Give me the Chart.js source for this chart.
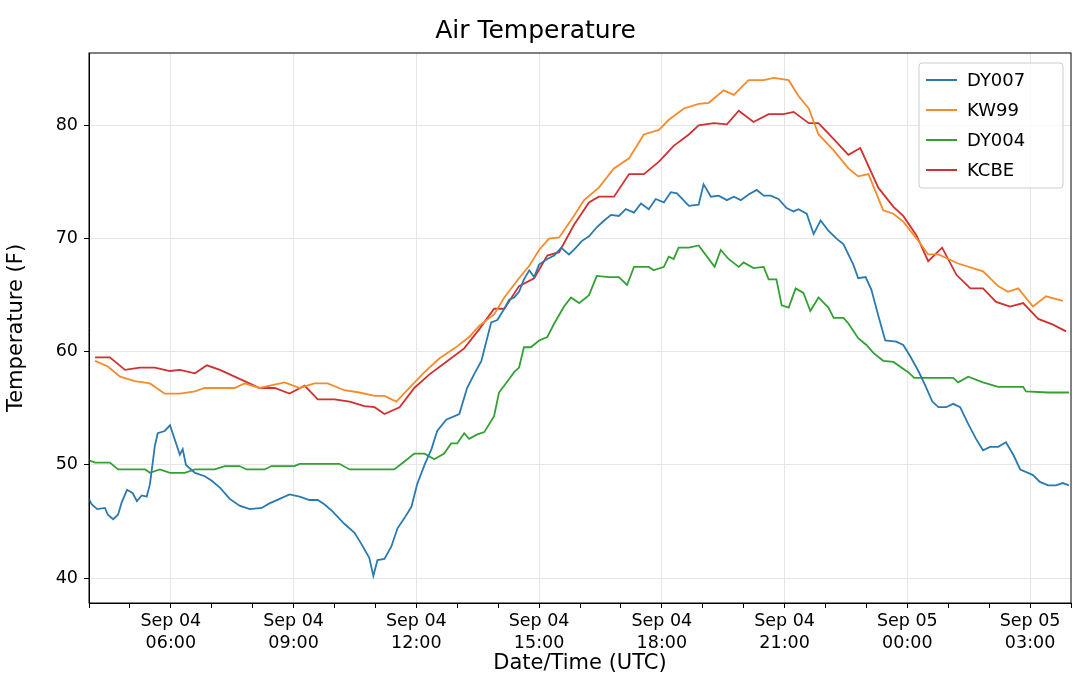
<!DOCTYPE html>
<html>
<head>
<meta charset="utf-8">
<script src="https://cdn.jsdelivr.net/npm/chart.js@4"></script>
<style>
  html, body { margin: 0; padding: 0; background: #fff; }
  #wrap { width: 1080px; height: 688px; }
</style>
</head>
<body>
<div id="wrap"><canvas id="myChart" width="1080" height="688"></canvas></div>
<script>
// x = hours after Sep 04 04:00 UTC
const dy007X = [0,.07,.20,.39,.46,.59,.71,.80,.93,1.07,1.17,1.29,1.41,1.49,1.61,1.68,1.85,1.98,2.10,2.22,2.29,2.37,2.59,2.83,3.00,3.20,3.44,3.68,3.93,4.22,4.41,4.66,4.90,5.15,5.39,5.59,5.76,5.95,6.24,6.49,6.66,6.85,6.95,7.05,7.22,7.39,7.54,7.71,7.88,8.02,8.20,8.37,8.51,8.73,9.05,9.24,9.41,9.59,9.83,9.98,10.15,10.27,10.39,10.51,10.63,10.76,10.88,11.00,11.20,11.37,11.54,11.73,11.85,12.05,12.22,12.41,12.59,12.76,12.95,13.12,13.32,13.49,13.68,13.85,14.05,14.22,14.37,14.66,14.90,15.02,15.20,15.39,15.59,15.76,15.93,16.12,16.32,16.49,16.66,16.85,17.05,17.22,17.34,17.54,17.71,17.88,18.07,18.27,18.44,18.68,18.80,18.98,19.12,19.29,19.46,19.73,19.90,20.07,20.27,20.44,20.61,20.76,20.95,21.12,21.29,21.49,21.68,21.85,22.02,22.22,22.41,22.59,22.76,22.95,23.07,23.24,23.44,23.63,23.80,23.95];
const dy007Y = [47,46.5,46.1,46.2,45.6,45.2,45.6,46.7,47.8,47.5,46.8,47.3,47.2,48.3,51.7,52.8,53.0,53.5,52.2,50.9,51.4,50.0,49.3,49.0,48.6,48.0,47.0,46.4,46.1,46.2,46.6,47.0,47.4,47.2,46.9,46.9,46.5,45.9,44.8,44.0,43.0,41.8,40.2,41.6,41.7,42.8,44.4,45.3,46.3,48.3,50.0,51.4,53.0,54.0,54.5,56.8,58.0,59.2,62.6,62.8,63.8,64.6,64.8,65.3,66.4,67.2,66.6,67.7,68.2,68.5,69.2,68.6,69.0,69.8,70.2,71.0,71.6,72.1,72.0,72.6,72.3,73.1,72.6,73.5,73.2,74.1,74.0,72.9,73.0,74.8,73.7,73.8,73.4,73.7,73.4,73.9,74.3,73.8,73.8,73.5,72.7,72.4,72.6,72.2,70.4,71.6,70.7,70.0,69.5,67.7,66.5,66.6,65.5,63.2,61.0,60.9,60.6,59.6,58.3,57.0,55.6,55.1,55.1,55.4,55.1,53.6,52.3,51.3,51.6,51.6,52.0,50.9,49.6,49.3,49.1,48.5,48.2,48.2,48.4,48.2];

const kw99X = [.15,.46,.76,1.12,1.49,1.85,2.22,2.59,2.83,3.56,3.80,4.17,4.78,5.15,5.51,5.83,6.24,6.61,6.98,7.22,7.51,7.83,8.20,8.56,8.93,9.29,9.54,9.90,10.15,10.51,10.76,11.00,11.24,11.49,11.85,12.10,12.46,12.83,13.20,13.56,13.93,14.17,14.54,14.90,15.15,15.51,15.76,16.12,16.49,16.73,17.10,17.34,17.59,17.83,18.20,18.56,18.80,19.05,19.41,19.66,19.90,20.27,20.51,20.76,21.24,21.85,22.22,22.46,22.71,23.07,23.39,23.80];
const kw99Y = [59.2,58.7,57.8,57.4,57.2,56.3,56.3,56.5,56.8,56.8,57.2,56.8,57.3,56.8,57.2,57.2,56.6,56.4,56.1,56.1,55.6,56.8,58.2,59.4,60.3,61.3,62.3,63.3,64.8,66.5,67.6,69.0,70.0,70.1,72.0,73.4,74.5,76.2,77.1,79.2,79.6,80.5,81.5,81.9,82.0,83.1,82.7,84.0,84.0,84.2,84.0,82.6,81.5,79.2,77.8,76.2,75.5,75.7,72.5,72.2,71.5,69.8,68.6,68.6,67.8,67.1,65.8,65.3,65.6,64.0,64.9,64.5];

const dy004X = [0,.15,.51,.71,1.37,1.49,1.73,1.98,2.34,2.59,3.07,3.32,3.68,3.85,4.29,4.46,5.02,5.15,6.12,6.37,7.46,7.71,7.95,8.20,8.44,8.68,8.85,9.00,9.17,9.29,9.49,9.66,9.90,10.02,10.27,10.39,10.51,10.63,10.80,11.00,11.20,11.37,11.61,11.78,11.98,12.22,12.41,12.71,12.95,13.15,13.32,13.68,13.80,14.05,14.17,14.29,14.41,14.66,14.90,15.29,15.44,15.63,15.88,16.00,16.24,16.49,16.61,16.80,16.93,17.10,17.27,17.46,17.63,17.83,18.07,18.20,18.44,18.56,18.80,19.00,19.17,19.41,19.66,20.02,20.17,21.12,21.24,21.49,21.85,22.22,22.83,22.90,23.44,23.95];
const dy004Y = [50.4,50.2,50.2,49.6,49.6,49.3,49.6,49.3,49.3,49.6,49.6,49.9,49.9,49.6,49.6,49.9,49.9,50.1,50.1,49.6,49.6,50.3,51.0,51.0,50.5,51.0,51.9,51.9,52.8,52.3,52.7,52.9,54.3,56.4,57.6,58.2,58.6,60.4,60.4,61.0,61.3,62.5,64.0,64.8,64.3,65.0,66.7,66.6,66.6,65.9,67.5,67.5,67.2,67.5,68.4,68.2,69.2,69.2,69.4,67.5,69.0,68.2,67.5,67.9,67.4,67.5,66.4,66.4,64.1,63.9,65.6,65.2,63.6,64.8,63.9,63.0,63.0,62.5,61.2,60.6,59.9,59.2,59.1,58.2,57.7,57.7,57.3,57.8,57.3,56.9,56.9,56.5,56.4,56.4];

const kcbeX = [.15,.51,.88,1.24,1.61,1.98,2.22,2.59,2.88,3.20,3.68,4.17,4.54,4.90,5.27,5.59,6.00,6.37,6.73,6.98,7.22,7.59,7.95,8.32,8.80,9.17,9.54,9.90,10.15,10.51,10.88,11.20,11.49,11.85,12.22,12.46,12.83,13.20,13.56,13.93,14.29,14.66,14.90,15.27,15.59,15.88,16.24,16.61,16.98,17.22,17.59,17.83,18.20,18.56,18.85,19.29,19.66,19.90,20.22,20.51,20.85,21.20,21.54,21.85,22.17,22.51,22.83,23.20,23.56,23.88];
const kcbeY = [59.5,59.5,58.4,58.6,58.6,58.3,58.4,58.1,58.8,58.4,57.6,56.8,56.8,56.3,57.0,55.8,55.8,55.6,55.2,55.1,54.5,55.1,56.8,58.0,59.3,60.3,62.0,63.8,63.8,65.8,66.5,68.5,68.8,71.2,73.2,73.7,73.7,75.7,75.7,76.8,78.2,79.2,80.0,80.2,80.1,81.3,80.3,81.0,81.0,81.2,80.2,80.2,78.8,77.4,78.0,74.5,72.8,72.0,70.3,68.0,69.2,66.8,65.6,65.6,64.4,64.0,64.3,62.9,62.4,61.8];

const seriesNames = ['DY007', 'KW99', 'DY004', 'KCBE'];
const seriesColors = ['#2a7ab0', '#f58b2a', '#33a033', '#d03030'];
const tickHours = [2, 5, 8, 11, 14, 17, 20, 23];
const tickLabels = [['Sep 04','06:00'],['Sep 04','09:00'],['Sep 04','12:00'],['Sep 04','15:00'],
                    ['Sep 04','18:00'],['Sep 04','21:00'],['Sep 05','00:00'],['Sep 05','03:00']];

const pts = (xs, ys) => xs.map((x, i) => ({ x: x, y: ys[i] }));
const allData = [pts(dy007X, dy007Y), pts(kw99X, kw99Y), pts(dy004X, dy004Y), pts(kcbeX, kcbeY)];

const FONT = 'DejaVu Sans';
Chart.defaults.font.family = FONT;
Chart.defaults.color = '#000';

// legend box drawn in the top right of the plot, matplotlib style
const boxLegend = {
  id: 'boxLegend',
  afterDraw(chart) {
    const ctx = chart.ctx, a = chart.chartArea;
    const w = 144, h = 125, x0 = a.right - 8 - w, y0 = a.top + 10;
    ctx.save();
    ctx.fillStyle = 'rgba(255,255,255,0.8)';
    ctx.strokeStyle = '#ccc';
    ctx.lineWidth = 1;
    ctx.beginPath();
    ctx.roundRect(x0, y0, w, h, 3);
    ctx.fill(); ctx.stroke();
    ctx.font = '18px ' + FONT;
    ctx.textBaseline = 'middle';
    seriesNames.forEach((n, i) => {
      const y = y0 + 17 + i * 30;
      ctx.strokeStyle = seriesColors[i];
      ctx.lineWidth = 2;
      ctx.beginPath(); ctx.moveTo(x0 + 7, y); ctx.lineTo(x0 + 38, y); ctx.stroke();
      ctx.fillStyle = '#000';
      ctx.fillText(n, x0 + 48, y + 1);
    });
    ctx.restore();
  }
};

// black frame around the plot
const frame = {
  id: 'frame',
  afterDatasetsDraw(chart) {
    const ctx = chart.ctx, a = chart.chartArea;
    ctx.save();
    ctx.strokeStyle = '#000'; ctx.lineWidth = 1;
    ctx.strokeRect(a.left, a.top, a.right - a.left, a.bottom - a.top);
    ctx.restore();
  }
};

let ctx = document.getElementById('myChart').getContext('2d');
let chartJS = new Chart(ctx, {
  type: 'line',
  data: {
    datasets: seriesNames.map((n, i) => ({
      label: n,
      data: allData[i],
      borderColor: seriesColors[i],
      backgroundColor: seriesColors[i],
      borderWidth: 1.8,
      pointRadius: 0,
      tension: 0
    }))
  },
  options: {
    responsive: false,
    animation: false,
    layout: { padding: { left: 0, right: 9, top: 0, bottom: 8 } },
    plugins: {
      legend: { display: false },
      tooltip: { enabled: false },
      title: {
        display: true, text: 'Air Temperature',
        font: { size: 25, weight: 'normal' }, color: '#000',
        padding: { top: 16, bottom: 7 }
      }
    },
    scales: {
      x: {
        type: 'linear', min: 0, max: 24,
        afterBuildTicks: (s) => { s.ticks = []; for (let h = 0; h <= 24; h++) s.ticks.push({ value: h }); },
        afterFit: (s) => { s.height = 77; },
        ticks: {
          autoSkip: false, maxRotation: 0, font: { size: 17.5, lineHeight: 1.25 }, padding: 3,
          callback: (v) => { const k = tickHours.indexOf(v); return k >= 0 ? tickLabels[k] : ''; }
        },
        grid: {
          color: (c) => tickHours.includes(c.tick && c.tick.value) ? '#e6e6e6' : 'rgba(0,0,0,0)',
          tickColor: '#000', tickLength: 5, drawTicks: true
        },
        border: { color: '#000' },
        title: { display: true, text: 'Date/Time (UTC)', font: { size: 21 }, padding: { top: 0 } }
      },
      y: {
        min: 37.8, max: 86.4,
        afterBuildTicks: (s) => { s.ticks = [40, 50, 60, 70, 80].map(v => ({ value: v })); },
        afterFit: (s) => { s.width = 89; },
        ticks: { font: { size: 17.5 }, padding: 6 },
        grid: { color: '#e6e6e6', tickColor: '#000', tickLength: 5 },
        border: { color: '#000' },
        title: { display: true, text: 'Temperature (F)', font: { size: 21 }, padding: { bottom: 2 } }
      }
    }
  },
  plugins: [boxLegend, frame]
});
</script>
</body>
</html>
